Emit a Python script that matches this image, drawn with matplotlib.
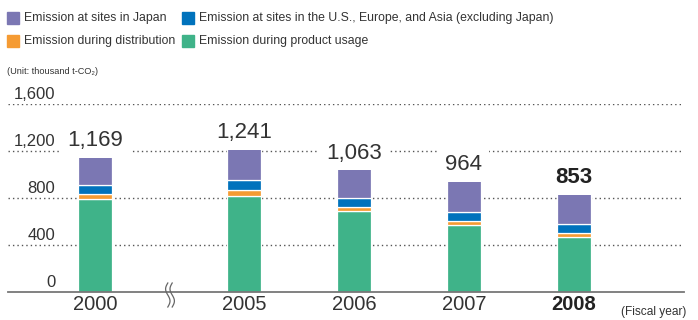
import matplotlib.pyplot as plt
import numpy as np
from matplotlib.patches import Rectangle

plt.rcParams['font.family'] = ['Liberation Sans', 'DejaVu Sans']

years = ['2000', '2005', '2006', '2007', '2008']
usage = [790, 819, 691, 574, 466]
distribution = [47, 49, 31, 34, 36]
overseas = [75, 81, 76, 69, 78]
japan = [257, 292, 265, 287, 273]
totals = ['1,169', '1,241', '1,063', '964', '853']

series = [usage, distribution, overseas, japan]
colors = ['#3fb389', '#f59b33', '#0072bc', '#7b77b3']
names = ['Emission at sites in Japan', 'Emission at sites in the U.S., Europe, and Asia (excluding Japan)',
         'Emission during distribution', 'Emission during product usage']
name_colors = ['#7b77b3', '#0072bc', '#f59b33', '#3fb389']
txt = '#333333'

W, H = 698, 320
fig = plt.figure(figsize=(W / 100, H / 100), dpi=100)
ax = fig.add_axes([8 / W, 1 - 292 / H, 676 / W, 188 / H])

# 2000 sits further left because of the axis break
x = np.array([0, 1.355, 2.355, 3.355, 4.355])
bottom = np.zeros(len(years))
for vals, c in zip(series, colors):
    ax.bar(x, vals, 0.31, bottom=bottom, color=c, edgecolor='white', linewidth=0.9, zorder=3)
    bottom += np.array(vals)

ax.set_xlim(-0.79, 5.355)
ax.set_ylim(0, 1600)

for v in [400, 800, 1200, 1600]:
    ax.axhline(v, color='#555555', lw=1, linestyle=(0, (1, 2.2)), zorder=1)
for v in [0, 400, 800, 1200, 1600]:
    ax.text(0.07, v + 14, f'{v:,}', transform=ax.get_yaxis_transform(), ha='right', va='bottom',
            fontsize=12, color=txt)

for i, (xi, t) in enumerate(zip(x, totals)):
    bold = i == len(years) - 1
    ax.text(xi, bottom[i] + 30, t, ha='center', va='bottom', fontsize=16, color='#222222' if bold else txt,
            fontweight='bold' if bold else 'normal', zorder=4,
            bbox=dict(facecolor='white', edgecolor='none', pad=5))

ax.set_xticks(x)
ax.set_xticklabels(years, fontsize=14.5, color=txt)
ax.get_xticklabels()[-1].set_fontweight('bold')
ax.get_xticklabels()[-1].set_color('#222222')
ax.tick_params(axis='x', length=0, pad=2)
ax.set_yticks([])
for s in ['top', 'right', 'left']:
    ax.spines[s].set_visible(False)
ax.spines['bottom'].set_color('#777777')
ax.spines['bottom'].set_linewidth(1.3)
ax.spines['bottom'].set_zorder(5)

# axis break mark
t = np.linspace(0, 1, 60)
for dx in (-2.2, 2.2):
    px = 170 + dx - 2.2 * np.sin(2 * np.pi * t)
    py = 283 + 24 * t
    fig.add_artist(plt.Line2D(px / W, 1 - py / H, color='#666666', lw=0.9))

# legend
pos = [(7, 18), (182, 18), (7, 41), (182, 41)]
for (lx, ly), n, c in zip(pos, names, name_colors):
    fig.add_artist(Rectangle((lx / W, 1 - (ly + 6) / H), 12 / W, 12 / H, color=c, transform=fig.transFigure))
    fig.text((lx + 17) / W, 1 - ly / H, n, fontsize=8.8, color=txt, va='center')

fig.text(7 / W, 1 - 72 / H, '(Unit: thousand t-CO₂)', fontsize=6.6, color=txt, va='center')
fig.text(686 / W, 1 - 312 / H, '(Fiscal year)', fontsize=8.6, color=txt, va='center', ha='right')

fig.savefig('out.png', dpi=100)
